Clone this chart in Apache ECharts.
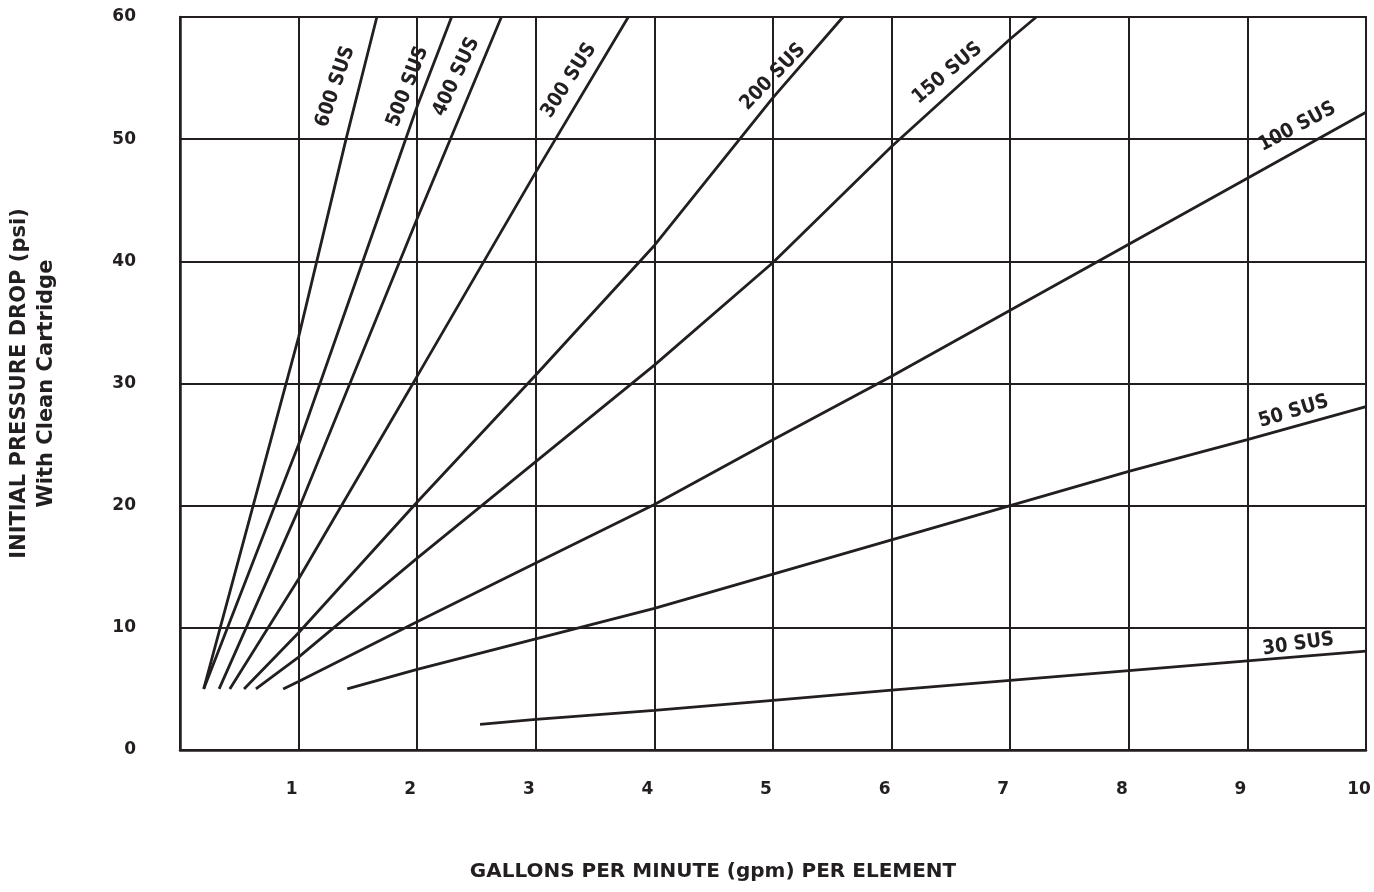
<!DOCTYPE html>
<html>
<head>
<meta charset="utf-8">
<script src="https://cdn.jsdelivr.net/npm/echarts@6/dist/echarts.min.js"></script>
<style>
  html, body { margin: 0; padding: 0; background: #ffffff; overflow: hidden; }
  #chart { width: 1374px; height: 892px; }
</style>
</head>
<body>
<div id="chart"></div>
<script>
// ---- Data (gpm per element vs. initial pressure drop, psi) ----
const seriesNames = ['600 SUS', '500 SUS', '400 SUS', '300 SUS', '200 SUS', '150 SUS', '100 SUS', '50 SUS', '30 SUS'];

const gpm600 = [0.2, 1, 1.4, 1.66];
const psi600 = [5, 33.8, 50, 60];

const gpm500 = [0.2, 1, 2, 2.29];
const psi500 = [5, 25, 52.7, 60];

const gpm400 = [0.33, 1, 2, 2.71];
const psi400 = [5, 19.7, 43.5, 60];

const gpm300 = [0.42, 1, 2, 3, 3.78];
const psi300 = [5, 14, 30.6, 47.3, 60];

const gpm200 = [0.54, 1, 2, 3, 4, 5, 5.59];
const psi200 = [5, 9.6, 20.3, 30.7, 41.3, 53.4, 60];

const gpm150 = [0.64, 1, 2, 3, 4, 5, 6, 7, 7.22];
const psi150 = [5, 7.6, 15.7, 23.6, 31.5, 39.9, 49.4, 58.2, 60];

const gpm100 = [0.87, 1, 2, 3, 4, 5, 6, 7, 8, 9, 10];
const psi100 = [5, 5.6, 10.5, 15.3, 20.1, 25.4, 30.6, 36.0, 41.4, 46.8, 52.2];

const gpm50 = [1.41, 2, 3, 4, 5, 6, 7, 8, 9, 10];
const psi50 = [5, 6.6, 9.1, 11.6, 14.4, 17.2, 20.0, 22.8, 25.4, 28.1];

const gpm30 = [2.53, 3, 4, 5, 6, 7, 8, 9, 10];
const psi30 = [2.1, 2.5, 3.25, 4.07, 4.9, 5.7, 6.5, 7.3, 8.1];

const xTicks = [1, 2, 3, 4, 5, 6, 7, 8, 9, 10];
const yTicks = [0, 10, 20, 30, 40, 50, 60];

// ---- Label placement (data coords) and angles, kept apart from the data ----
const labelPlacement = {
  '600 SUS': { at: [1.31, 54.3], rotate: 71 },
  '500 SUS': { at: [1.92, 54.3], rotate: 69 },
  '400 SUS': { at: [2.33, 55.1], rotate: 65 },
  '300 SUS': { at: [3.28, 54.8], rotate: 57 },
  '200 SUS': { at: [5.0, 55.1], rotate: 46 },
  '150 SUS': { at: [6.47, 55.4], rotate: 40 },
  '100 SUS': { at: [9.42, 51.0], rotate: 28 },
  '50 SUS':  { at: [9.39, 27.7], rotate: 17 },
  '30 SUS':  { at: [9.43, 8.65], rotate: 8 }
};

const xs = [gpm600, gpm500, gpm400, gpm300, gpm200, gpm150, gpm100, gpm50, gpm30];
const ys = [psi600, psi500, psi400, psi300, psi200, psi150, psi100, psi50, psi30];

const INK = '#231f20';
const TICK_FONT = "'DejaVu Sans', sans-serif";
const LABEL_FONT = "'Liberation Sans Narrow', 'DejaVu Sans Condensed', 'Liberation Sans', sans-serif";

const lineSeries = seriesNames.map((name, i) => ({
  name: name,
  type: 'line',
  data: xs[i].map((x, k) => [x, ys[i][k]]),
  showSymbol: false,
  symbol: 'none',
  smooth: false,
  silent: true,
  lineStyle: { color: INK, width: 2.8 },
  z: 3
}));

const labelSeries = {
  name: 'labels',
  type: 'scatter',
  symbolSize: 0,
  silent: true,
  z: 4,
  itemStyle: { opacity: 1, color: INK },
  data: seriesNames.map(n => ({
    name: n,
    value: labelPlacement[n].at,
    label: { rotate: labelPlacement[n].rotate }
  })),
  label: {
    show: true,
    position: 'inside',
    formatter: p => p.name,
    color: INK,
    fontFamily: LABEL_FONT,
    fontWeight: 'bold',
    fontSize: 20
  }
};

const chart = echarts.init(document.getElementById('chart'), null, { renderer: 'canvas' });
chart.setOption({
  backgroundColor: '#ffffff',
  animation: false,
  grid: {
    left: 180, right: 8, top: 17, bottom: 142,
    outerBoundsMode: 'none',
    containLabel: false,
    show: true, borderColor: INK, borderWidth: 2
  },
  xAxis: {
    type: 'value',
    min: 0, max: 10, interval: 1,
    name: 'GALLONS PER MINUTE (gpm) PER ELEMENT',
    nameLocation: 'middle',
    nameGap: 112,
    nameTextStyle: {
      color: INK, fontFamily: TICK_FONT, fontWeight: 'bold', fontSize: 20,
      padding: [0, 120, 0, 0]
    },
    axisLine: { show: true, lineStyle: { color: INK, width: 2.5 } },
    axisTick: { show: false },
    splitLine: { show: true, lineStyle: { color: INK, width: 2 } },
    axisLabel: {
      margin: 31,
      padding: [0, 14, 0, 0],
      color: INK, fontFamily: TICK_FONT, fontWeight: 'bold', fontSize: 17,
      formatter: v => (xTicks.indexOf(v) >= 0 ? String(v) : '')
    }
  },
  yAxis: {
    type: 'value',
    min: 0, max: 60, interval: 10,
    name: 'INITIAL PRESSURE DROP (psi)\nWith Clean Cartridge',
    nameLocation: 'middle',
    nameRotate: 90,
    nameGap: 120,
    nameTextStyle: {
      color: INK, fontFamily: TICK_FONT, fontWeight: 'bold', fontSize: 21, lineHeight: 27,
      align: 'center'
    },
    axisLine: { show: true, lineStyle: { color: INK, width: 2.5 } },
    axisTick: { show: false },
    splitLine: { show: true, lineStyle: { color: INK, width: 2 } },
    axisLabel: {
      margin: 44,
      color: INK, fontFamily: TICK_FONT, fontWeight: 'bold', fontSize: 17,
      formatter: v => (yTicks.indexOf(v) >= 0 ? String(v) : '')
    }
  },
  series: lineSeries.concat([labelSeries])
});
</script>
</body>
</html>
